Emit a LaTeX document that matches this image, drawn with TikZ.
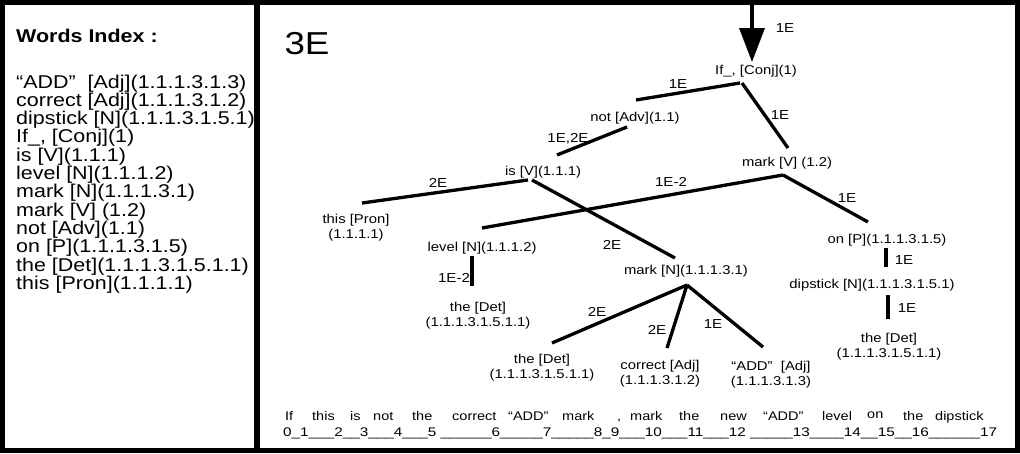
\documentclass[tikz,border=0pt]{standalone}
\usepackage{fontspec}
\setmainfont{Liberation Sans}[FakeStretch=1.16]
\usepackage{graphicx}
\usetikzlibrary{arrows.meta,calc}
\begin{document}
\begin{tikzpicture}[x=1pt,y=-1pt,
  tl/.style={inner sep=0pt, align=center, font=\fontsize{12.8}{15}\selectfont},
  el/.style={inner sep=0pt, font=\fontsize{13}{13}\selectfont},
  li/.style={anchor=base west, inner sep=0pt, font=\fontsize{18.5}{18}\selectfont},
  bw/.style={anchor=base west, inner sep=0pt, font=\fontsize{12.5}{13}\selectfont},
  link/.style={line width=3.3pt},
  frame/.style={line width=5pt}]
\useasboundingbox (0,0) rectangle (1020,453);
\fill[white] (0,0) rectangle (1020,453);
% ---------- left panel ----------
\node[li,font=\bfseries\fontsize{18.5}{18}\selectfont] (title) at (16,42) {Words Index :};
\node[li] (i1) at (16,88) {“ADD”\ \ [Adj](1.1.1.3.1.3)};
\node[li] (i2) at (16,106.3) {correct [Adj](1.1.1.3.1.2)};
\node[li] (i3) at (16,124.6) {dipstick [N](1.1.1.3.1.5.1)};
\node[li] (i4) at (16,142.9) {If\_, [Conj](1)};
\node[li] (i5) at (16,161.2) {is [V](1.1.1)};
\node[li] (i6) at (16,179.5) {level [N](1.1.1.2)};
\node[li] (i7) at (16,197.8) {mark [N](1.1.1.3.1)};
\node[li] (i8) at (16,216.1) {mark [V] (1.2)};
\node[li] (i9) at (16,234.4) {not [Adv](1.1)};
\node[li] (i10) at (16,252.7) {on [P](1.1.1.3.1.5)};
\node[li] (i11) at (16,271) {the [Det](1.1.1.3.1.5.1.1)};
\node[li] (i12) at (16,289.3) {this [Pron](1.1.1.1)};
% ---------- right panel ----------
\node[inner sep=0pt,font=\fontsize{31.7}{32}\selectfont] (ttl) at (307,44) {3E};
\node[tl] (ifc) at (756,71) {If\_, [Conj](1)};
\node[tl] (notadv) at (635,118) {not [Adv](1.1)};
\node[tl] (markv) at (787,163) {mark [V] (1.2)};
\node[tl] (isv) at (543,172) {is [V](1.1.1)};
\node[tl] (thispron) at (356,228) {this [Pron]\\(1.1.1.1)};
\node[tl] (leveln) at (482,248) {level [N](1.1.1.2)};
\node[tl] (det1) at (478,316) {the [Det]\\(1.1.1.3.1.5.1.1)};
\node[tl] (markn) at (686,271) {mark [N](1.1.1.3.1)};
\node[tl] (det2) at (542,368) {the [Det]\\(1.1.1.3.1.5.1.1)};
\node[tl] (correct) at (660,374) {correct [Adj]\\(1.1.1.3.1.2)};
\node[tl] (add) at (771,375) {“ADD”\ \ [Adj]\\(1.1.1.3.1.3)};
\node[tl] (onp) at (887,240) {on [P](1.1.1.3.1.5)};
\node[tl] (dipstick) at (872,285) {dipstick [N](1.1.1.3.1.5.1)};
\node[tl] (det3) at (889,347) {the [Det]\\(1.1.1.3.1.5.1.1)};
% connectors
\coordinate (top) at (752,4);
\draw[link,-{Triangle[length=34pt,width=25pt]}] (top) -- ($(ifc)+(-4,-9)$);
\draw[link] ($(ifc)+(-16,12)$) -- ($(notadv)+(1,-18)$);
\draw[link] ($(ifc)+(-14,12)$) -- ($(markv)+(1,-15)$);
\draw[link] ($(notadv)+(-8,9)$) -- ($(isv)+(14,-17)$);
\draw[link] ($(isv)+(-15,8)$) -- ($(thispron)+(6,-25)$);
\draw[link] ($(isv)+(-11,8)$) -- ($(markn)+(-11,-13)$);
\draw[link] ($(markv)+(-4,12)$) -- ($(leveln)+(0,-20)$);
\draw[link] ($(markv)+(-4,12)$) -- ($(onp)+(-19,-18)$);
\draw[link] ($(leveln)+(-10,8)$) -- ($(det1)+(-6,-30)$);
\draw[link] ($(markn)+(1,14)$) -- ($(det2)+(10,-25)$);
\draw[link] ($(markn)+(1,14)$) -- ($(correct)+(7,-26)$);
\draw[link] ($(markn)+(1,14)$) -- ($(add)+(-8,-28)$);
\draw[link] ($(onp)+(-1,8)$) -- ($(dipstick)+(14,-18)$);
\draw[link] ($(dipstick)+(16,10)$) -- ($(det3)+(-1,-28)$);
% edge labels
\node[el] (l1) at (785,28) {1E};
\node[el] (l2) at (678,84) {1E};
\node[el] (l3) at (780,115) {1E};
\node[el] (l4) at (568,139) {1E,2E};
\node[el] (l5) at (438,183) {2E};
\node[el] (l6) at (671,182) {1E-2};
\node[el] (l7) at (847,198) {1E};
\node[el] (l8) at (612,245) {2E};
\node[el] (l9) at (454,278) {1E-2};
\node[el] (l10) at (597,312) {2E};
\node[el] (l11) at (657,330) {2E};
\node[el] (l12) at (713,324) {1E};
\node[el] (l13) at (904,260) {1E};
\node[el] (l14) at (907,308) {1E};
% bottom sentence
\node[bw] (w1) at (285,420) {If};
\node[bw] (w2) at (312,420) {this};
\node[bw] (w3) at (350,420) {is};
\node[bw] (w4) at (373,420) {not};
\node[bw] (w5) at (412,420) {the};
\node[bw] (w6) at (452,420) {correct};
\node[bw] (w7) at (508,420) {“ADD”};
\node[bw] (w8) at (562,420) {mark};
\node[bw] (w9) at (617,420) {,};
\node[bw] (w10) at (630,420) {mark};
\node[bw] (w11) at (679,420) {the};
\node[bw] (w12) at (720,420) {new};
\node[bw] (w13) at (763,420) {“ADD”};
\node[bw] (w14) at (822,420) {level};
\node[bw] (w15) at (867,418) {on};
\node[bw] (w16) at (903,420) {the};
\node[bw] (w17) at (935,420) {dipstick};
\node[bw] (nums) at (283,436.5) {\resizebox{714pt}{\height}{0\_1\_\_\_2\_\_3\_\_\_4\_\_\_5 \_\_\_\_\_\_6\_\_\_\_\_7\_\_\_\_\_8\_9\_\_\_10\_\_\_11\_\_\_12 \_\_\_\_\_13\_\_\_\_14\_\_15\_\_16\_\_\_\_\_\_17}};
% frame
\draw[frame] (2.5,2.5) rectangle (1017.5,450.5);
\draw[line width=6pt] (256.5,0) -- (256.5,453);
\end{tikzpicture}
\end{document}
